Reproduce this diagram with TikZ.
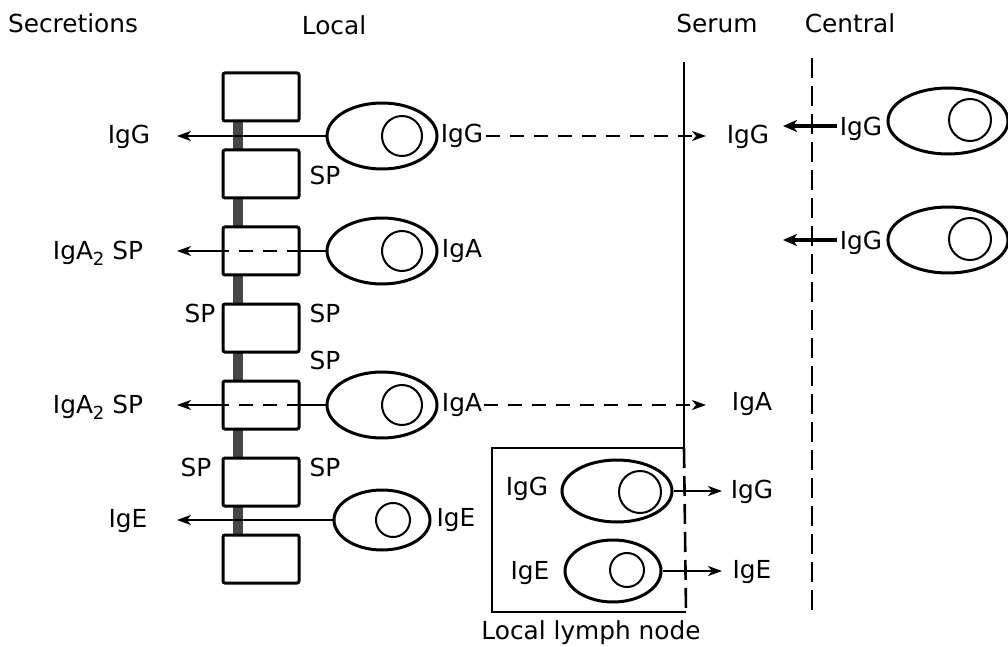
\documentclass[tikz,border=0pt]{standalone}
\usepackage{fontspec}
\setmainfont{DejaVu Sans}
\usetikzlibrary{shapes.geometric,arrows.meta}

\begin{document}
\begin{tikzpicture}[x=0.5pt,y=-0.5pt,
		every node/.style={font=\fontsize{12.4}{15}\selectfont,inner sep=1pt,anchor=center},
		epi/.style={draw,line width=1.5pt,rounded corners=1pt,minimum width=38pt,minimum height=24pt,inner sep=0pt},
		cell/.style={draw,ellipse,line width=1.5pt,minimum width=55pt,minimum height=33pt,inner sep=0pt},
		small cell/.style={cell,minimum width=48pt,minimum height=30pt},
		nucleus/.style={draw,circle,line width=1pt,minimum size=20pt,inner sep=0pt},
		small nucleus/.style={nucleus,minimum size=17pt},
		tip/.style={-{Stealth[length=7pt,width=5pt,inset=2pt]},line width=0.9pt},
		bold tip/.style={-{Stealth[length=7pt,width=6pt,inset=2pt]},line width=2pt},
		dash line/.style={line width=0.9pt,dash pattern=on 7pt off 5pt},
		border/.style={line width=1.3pt,dash pattern=on 10pt off 4pt}]
	\useasboundingbox (0,0) rectangle (1008,647);
	
	% headings
	\node (secretions) at (73,23) {Secretions};
	\node (local) at (334,25) {Local};
	\node (serum) at (717,23) {Serum};
	\node (central) at (850,23) {Central};
	
	% epithelium
	\foreach \i in {1,...,6}
		\fill[gray!55!black] (233,{44+77*\i}) rectangle (243,{73+77*\i});
	\foreach \i in {1,...,7}
		\node[epi,fill=white] (box\i) at (261,{20+77*\i}) {};
	
	\begin{scope}[every node/.style={font=\fontsize{12.4}{15}\selectfont,inner sep=1pt}]
		\node at (325,175) {SP};
		\node at (200,313) {SP};
		\node at (325,313) {SP};
		\node at (325,360) {SP};
		\node at (196,467) {SP};
		\node at (325,467) {SP};
	\end{scope}
	
	% local plasma cells
	\node[cell] (cg) at (382,136) {};
	\node[nucleus] (ncg) at (402,136) {};
	\node[cell] (ca1) at (382,251) {};
	\node[nucleus] (nca1) at (402,251) {};
	\node[cell] (ca2) at (382,405) {};
	\node[nucleus] (nca2) at (402,405) {};
	\node[small cell] (ce) at (382,520) {};
	\node[small nucleus] (nce) at (393,520) {};
	
	\node (lcg) at (462,136) {IgG};
	\node (lca1) at (462,251) {IgA};
	\node (lca2) at (462,405) {IgA};
	\node (lce) at (456,520) {IgE};
	
	% secretions side
	\node (sg) at (129,137) {IgG};
	\node (sa1) at (98,253) {IgA\raisebox{-.45ex}{\small 2} SP};
	\node (sa2) at (98,407) {IgA\raisebox{-.45ex}{\small 2} SP};
	\node (se) at (128,521) {IgE};
	\coordinate (tg) at (177,136);
	\coordinate (ta1) at (177,251);
	\coordinate (ta2) at (177,405);
	\coordinate (te) at (177,520);
	
	\draw[tip] (cg.west) -- (tg);
	\draw[line width=0.9pt] (ca1.west) -- (box3.east);
	\draw[dash line] (box3.east) -- (box3.west);
	\draw[tip] (box3.west) -- (ta1);
	\draw[line width=0.9pt] (ca2.west) -- (box5.east);
	\draw[dash line] (box5.east) -- (box5.west);
	\draw[tip] (box5.west) -- (ta2);
	\draw[tip] (ce.west) -- (te);
	
	% serum
	\coordinate (serum top) at (684,62);
	\coordinate (node ne) at (684,448);
	\coordinate (node nw) at (492,448);
	\coordinate (node sw) at (492,612);
	\coordinate (node se) at (686,612);
	\draw[line width=1.3pt] (serum top) -- (node ne) -- (node nw) -- (node sw) -- (node se);
	\draw[border] (node ne) -- (node se);
	\node (lymph) at (591,633) {Local lymph node};
	
	\node (rg) at (748,137) {IgG};
	\node (ra) at (752,404) {IgA};
	\coordinate (trg) at (706,136);
	\coordinate (tra) at (706,405);
	\draw[tip,dash line] (lcg.east) -- (trg);
	\draw[tip,dash line] (lca2.east) -- (tra);
	
	% local lymph node cells
	\node[cell,minimum height=31pt] (ng) at (617,491) {};
	\node[nucleus,minimum size=21pt] (nng) at (640,492) {};
	\node[small cell,minimum height=31pt] (ne) at (613,571) {};
	\node[small nucleus] (nne) at (627,570) {};
	\node (lng) at (527,489) {IgG};
	\node (lne) at (530,573) {IgE};
	\node (rng) at (752,492) {IgG};
	\node (rne) at (752,572) {IgE};
	\coordinate (tng) at (722,491);
	\coordinate (tne) at (722,571);
	\draw[tip] (ng.east) -- (tng);
	\draw[tip] (ne.east) -- (tne);
	
	% central
	\draw[border] (812,58) -- (812,610);
	\node[cell,minimum width=60pt] (c1) at (948,121) {};
	\node[nucleus,minimum size=21pt] (nc1) at (970,120) {};
	\node[cell,minimum width=60pt] (c2) at (948,240) {};
	\node[nucleus,minimum size=21pt] (nc2) at (970,239) {};
	\node (lc1) at (861,129) {IgG};
	\node (lc2) at (861,243) {IgG};
	\coordinate (tc1) at (783,126);
	\coordinate (tc2) at (783,240);
	\draw[bold tip] ([yshift=1.5pt]lc1.west) -- (tc1);
	\draw[bold tip] ([yshift=1.5pt]lc2.west) -- (tc2);
\end{tikzpicture}
\end{document}
